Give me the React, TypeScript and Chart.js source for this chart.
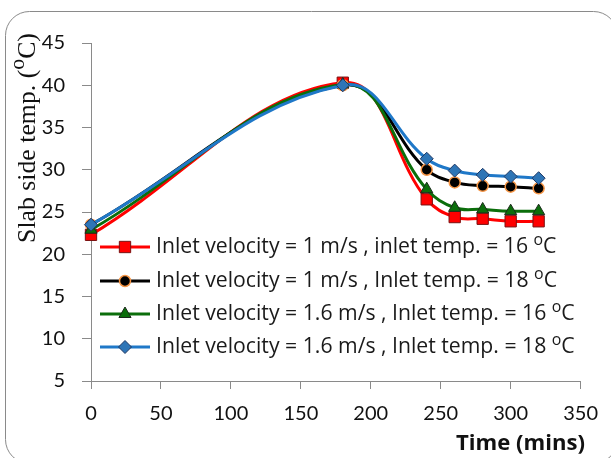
import React, { useEffect, useRef } from "react";
import { Chart, registerables } from "chart.js";
import { drawPoint } from "chart.js/helpers";

Chart.register(...registerables);

const timeMins = [0, 180, 240, 260, 280, 300, 320];
const v1t16 = [22.3, 40.3, 26.5, 24.4, 24.2, 23.9, 23.9];
const v1t18 = [23.5, 40.0, 30.0, 28.5, 28.1, 28.0, 27.8];
const v16t16 = [22.9, 40.1, 27.7, 25.5, 25.3, 25.1, 25.1];
const v16t18 = [23.5, 40.0, 31.3, 29.9, 29.4, 29.2, 29.0];

const SUP = "\u1D52";
const seriesLabels = [
  "Inlet velocity = 1 m/s , inlet temp. = 16 " + SUP + "C",
  "Inlet velocity = 1 m/s , Inlet temp. = 18 " + SUP + "C",
  "Inlet velocity = 1.6 m/s , Inlet temp. = 16 " + SUP + "C",
  "Inlet velocity = 1.6 m/s , Inlet temp. = 18 " + SUP + "C",
];
const xTicksMin = 0;
const xTicksMax = 350;
const xStep = 50;
const yTicksMin = 5;
const yTicksMax = 45;
const yStep = 5;
const yTitle = "Slab side temp. (" + SUP + "C)";
const xTitle = "Time (mins)";

const styles = [
  { line: "#ff0000", fill: "#ff0000", border: "#7a1010", pointStyle: "rect", radius: 8, bw: 1 },
  { line: "#000000", fill: "#000000", border: "#f79646", pointStyle: "circle", radius: 5.5, bw: 1.5 },
  { line: "#0b6e0b", fill: "#0b6e0b", border: "#1a2a1a", pointStyle: "triangle", radius: 7, bw: 1 },
  { line: "#1f78c8", fill: "#2e75b6", border: "#1f3864", pointStyle: "rectRot", radius: 6.5, bw: 1 },
];

const SANS = "'Open Sans', Lato, sans-serif";
const TICKFONT = "Lato, 'Open Sans', sans-serif";
const SERIF = "'Liberation Serif', 'DejaVu Serif', serif";

// draw text where SUP marks a raised small "o"; returns width
function supText(ctx: any, text: string, x: number, y: number, size: number, family: string, weight: string, supScale: number, supRaise: number, measureOnly: boolean) {
  const parts = text.split(SUP);
  let cx = x;
  parts.forEach((p, i) => {
    ctx.font = `${weight} ${size}px ${family}`;
    if (!measureOnly) ctx.fillText(p, cx, y);
    cx += ctx.measureText(p).width;
    if (i < parts.length - 1) {
      ctx.font = `${weight} ${size * supScale}px ${family}`;
      if (!measureOnly) ctx.fillText("o", cx, y - size * supRaise);
      cx += ctx.measureText("o").width;
    }
  });
  return cx - x;
}

function fitSize(ctx: any, text: string, target: number, family: string, weight: string, supScale: number) {
  const w = supText(ctx, text, 0, 0, 100, family, weight, supScale, 0, true);
  return (100 * target) / w;
}

const borderPlugin = {
  id: "roundBorder",
  afterDraw(chart: any) {
    const ctx = chart.ctx;
    ctx.save();
    ctx.strokeStyle = "#8a8a8a";
    ctx.lineWidth = 1;
    const x = 5.5, y = 11.5, w = 612, h = 452, r = 24;
    ctx.beginPath();
    ctx.moveTo(x + r, y);
    ctx.lineTo(x + w - r, y);
    ctx.arcTo(x + w, y, x + w, y + r, r);
    ctx.lineTo(x + w, y + h - r);
    ctx.arcTo(x + w, y + h, x + w - r, y + h, r);
    ctx.lineTo(x + r, y + h);
    ctx.arcTo(x, y + h, x, y + h - r, r);
    ctx.lineTo(x, y + r);
    ctx.arcTo(x, y, x + r, y, r);
    ctx.closePath();
    ctx.stroke();
    ctx.restore();
  },
};

const titlesPlugin = {
  id: "titles",
  afterDraw(chart: any) {
    const ctx = chart.ctx;
    ctx.save();
    ctx.fillStyle = "#111";
    ctx.textBaseline = "middle";
    ctx.textAlign = "left";
    // x title, right aligned
    const xs = fitSize(ctx, xTitle, 129, SANS, "bold", 1);
    ctx.font = `bold ${xs}px ${SANS}`;
    const xw = ctx.measureText(xTitle).width;
    ctx.fillText(xTitle, 585 - xw, 444);
    // y title rotated
    const ys = fitSize(ctx, yTitle, 210, SERIF, "normal", 0.85);
    const yw = supText(ctx, yTitle, 0, 0, ys, SERIF, "normal", 0.85, 0.38, true);
    ctx.translate(28, 138 + yw / 2);
    ctx.rotate(-Math.PI / 2);
    supText(ctx, yTitle, 0, 0, ys, SERIF, "normal", 0.85, 0.38, false);
    ctx.restore();
  },
};

const legendPlugin = {
  id: "insideLegend",
  afterDraw(chart: any) {
    const ctx = chart.ctx;
    ctx.save();
    const x0 = 100, x1 = 150, tx = 156;
    const rows = [247, 281, 314, 347];
    const size = fitSize(ctx, seriesLabels[3], 419, SANS, "normal", 0.75);
    ctx.textBaseline = "middle";
    ctx.textAlign = "left";
    seriesLabels.forEach((lab, i) => {
      const s = styles[i];
      const y = rows[i];
      ctx.strokeStyle = s.line;
      ctx.lineWidth = 3;
      ctx.beginPath();
      ctx.moveTo(x0, y);
      ctx.lineTo(x1, y);
      ctx.stroke();
      ctx.fillStyle = s.fill;
      ctx.strokeStyle = s.border;
      ctx.lineWidth = s.bw;
      drawPoint(ctx, { pointStyle: s.pointStyle, radius: s.radius, borderWidth: s.bw, rotation: 0 } as any, (x0 + x1) / 2, y);
      ctx.fillStyle = "#1a1a1a";
      supText(ctx, lab, tx, y, size, SANS, "normal", 0.75, 0.32, false);
    });
    ctx.restore();
  },
};

export default function App() {
  const ref = useRef<HTMLCanvasElement>(null);
  useEffect(() => {
    const series = [v1t16, v1t18, v16t16, v16t18];
    const datasets = series.map((vals, i) => {
      const s = styles[i];
      return {
        label: seriesLabels[i],
        data: vals.map((v, j) => ({ x: timeMins[j], y: v })),
        borderColor: s.line,
        borderWidth: 3,
        backgroundColor: s.fill,
        pointBackgroundColor: s.fill,
        pointBorderColor: s.border,
        pointBorderWidth: s.bw,
        pointStyle: s.pointStyle,
        pointRadius: s.radius,
        tension: 0.4,
        fill: false,
        clip: false,
        order: 4 - i,
      };
    });
    const chart = new Chart(ref.current!, {
      type: "line",
      data: { datasets } as any,
      options: {
        animation: false,
        responsive: false,
        layout: { padding: { left: 0, top: 43, right: 30, bottom: 0 } },
        plugins: { legend: { display: false }, tooltip: { enabled: false } },
        scales: {
          x: {
            type: "linear",
            min: xTicksMin,
            max: xTicksMax,
            afterFit: (s: any) => { s.height = 77; },
            ticks: { stepSize: xStep, color: "#111", padding: 13, font: { family: TICKFONT, size: 20 } },
            grid: { display: true, drawOnChartArea: false, drawTicks: true, tickLength: 8, color: "#8a8a8a" },
            border: { color: "#8a8a8a", width: 1 },
            title: { display: false },
          },
          y: {
            type: "linear",
            min: yTicksMin,
            max: yTicksMax,
            afterFit: (s: any) => { s.width = 91; },
            ticks: { stepSize: yStep, color: "#111", padding: 17, font: { family: TICKFONT, size: 20 } },
            grid: { display: true, drawOnChartArea: false, drawTicks: true, tickLength: 9, color: "#8a8a8a" },
            border: { color: "#8a8a8a", width: 1 },
            title: { display: false },
          },
        },
      },
      plugins: [legendPlugin, titlesPlugin, borderPlugin],
    } as any);
    return () => chart.destroy();
  }, []);
  return (
    <div style={{ position: "fixed", left: 0, top: 0, width: 611, height: 458, background: "#fff" }}>
      <canvas ref={ref} width={611} height={458} style={{ width: 611, height: 458, display: "block" }} />
    </div>
  );
}
